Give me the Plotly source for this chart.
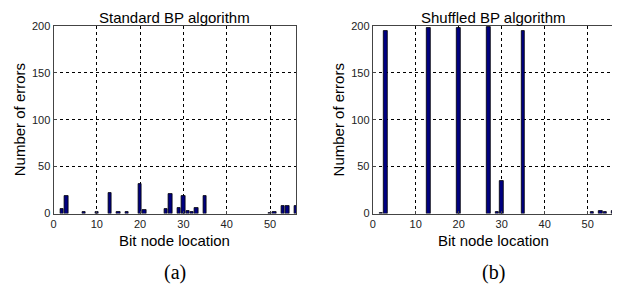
import plotly.graph_objects as go

# Standard BP algorithm
std_nodes = [2, 3, 7, 10, 13, 15, 17, 20, 21, 26, 27, 29, 30, 31, 32, 33, 35, 50, 51, 53, 54, 56]
std_errors = [5, 19, 2, 2, 22, 2, 2, 31, 4, 5, 21, 6, 19, 3, 2, 6, 19, 1, 2, 8, 8, 8]

# Shuffled BP algorithm
shf_nodes = [2, 3, 13, 20, 27, 29, 30, 35, 51, 53, 54, 56]
shf_errors = [1, 195, 198, 198, 199, 2, 35, 195, 2, 3, 2, 3]

titles = ["Standard BP algorithm", "Shuffled BP algorithm"]
panel_labels = ["(a)", "(b)"]
x_ticks = [0, 10, 20, 30, 40, 50]
y_ticks = [0, 50, 100, 150, 200]

OFF = 8  # page body margin of the html page
W, H = 620 - 2 * OFF + 2, 290 - 2 * OFF + 2
bar_color = "#000080"

fig = go.Figure()
fig.add_trace(go.Bar(x=std_nodes, y=std_errors, width=0.78, marker=dict(color=bar_color, line=dict(color="black", width=0.8)),
                     xaxis="x", yaxis="y", showlegend=False))
fig.add_trace(go.Bar(x=shf_nodes, y=shf_errors, width=0.78, marker=dict(color=bar_color, line=dict(color="black", width=0.8)),
                     xaxis="x2", yaxis="y2", showlegend=False))

def px_x(p):
    return (p - OFF) / W

def px_y(p):
    return 1 - (p - OFF) / H

panels = [(53.5, 296), (372.7, 613.5)]
top, bottom = 26, 213.5

axis_common = dict(showgrid=True, gridcolor="black", griddash="dot", gridwidth=1,
                   showline=True, linecolor="#444", linewidth=1, mirror=True,
                   ticks="inside", ticklen=3, tickcolor="#444", zeroline=False,
                   tickfont=dict(family="Liberation Sans, Arial", size=11, color="#222"))

layout = dict(width=W, height=H, margin=dict(l=0, r=0, t=0, b=0, autoexpand=False),
              paper_bgcolor="white", plot_bgcolor="white", bargap=0)

for i, (l, r) in enumerate(panels):
    sx = "" if i == 0 else "2"
    layout["xaxis" + sx] = dict(domain=[px_x(l), min(px_x(r), 1)], range=[0, 56], tickvals=x_ticks,
                                anchor="y" + sx, **axis_common)
    layout["yaxis" + sx] = dict(domain=[px_y(bottom), px_y(top)], range=[0, 200], tickvals=y_ticks,
                                anchor="x" + sx, **axis_common)

fig.update_layout(**layout)

ann = []
font_s = dict(family="Liberation Sans, Arial", size=15, color="black")
for i, (l, r) in enumerate(panels):
    cx = (l + r) / 2
    base = dict(xref="paper", yref="paper", showarrow=False, xanchor="center", yanchor="middle")
    ann.append(dict(text=titles[i], x=px_x(cx), y=1, yanchor="top", font=font_s,
                    xref="paper", yref="paper", showarrow=False, xanchor="center", borderpad=0))
    ann.append(dict(text="Bit node location", x=px_x(cx), y=px_y(240), font=font_s, **base))
    ann.append(dict(text="Number of errors", x=px_x(l - 34), y=px_y((top + bottom) / 2), textangle=-90,
                    font=font_s, **base))
    ann.append(dict(text=panel_labels[i], x=px_x(cx), y=px_y(272),
                    font=dict(family="Liberation Serif, Times New Roman", size=20, color="black"), **base))
fig.update_layout(annotations=ann)

fig.write_html("out.html")
